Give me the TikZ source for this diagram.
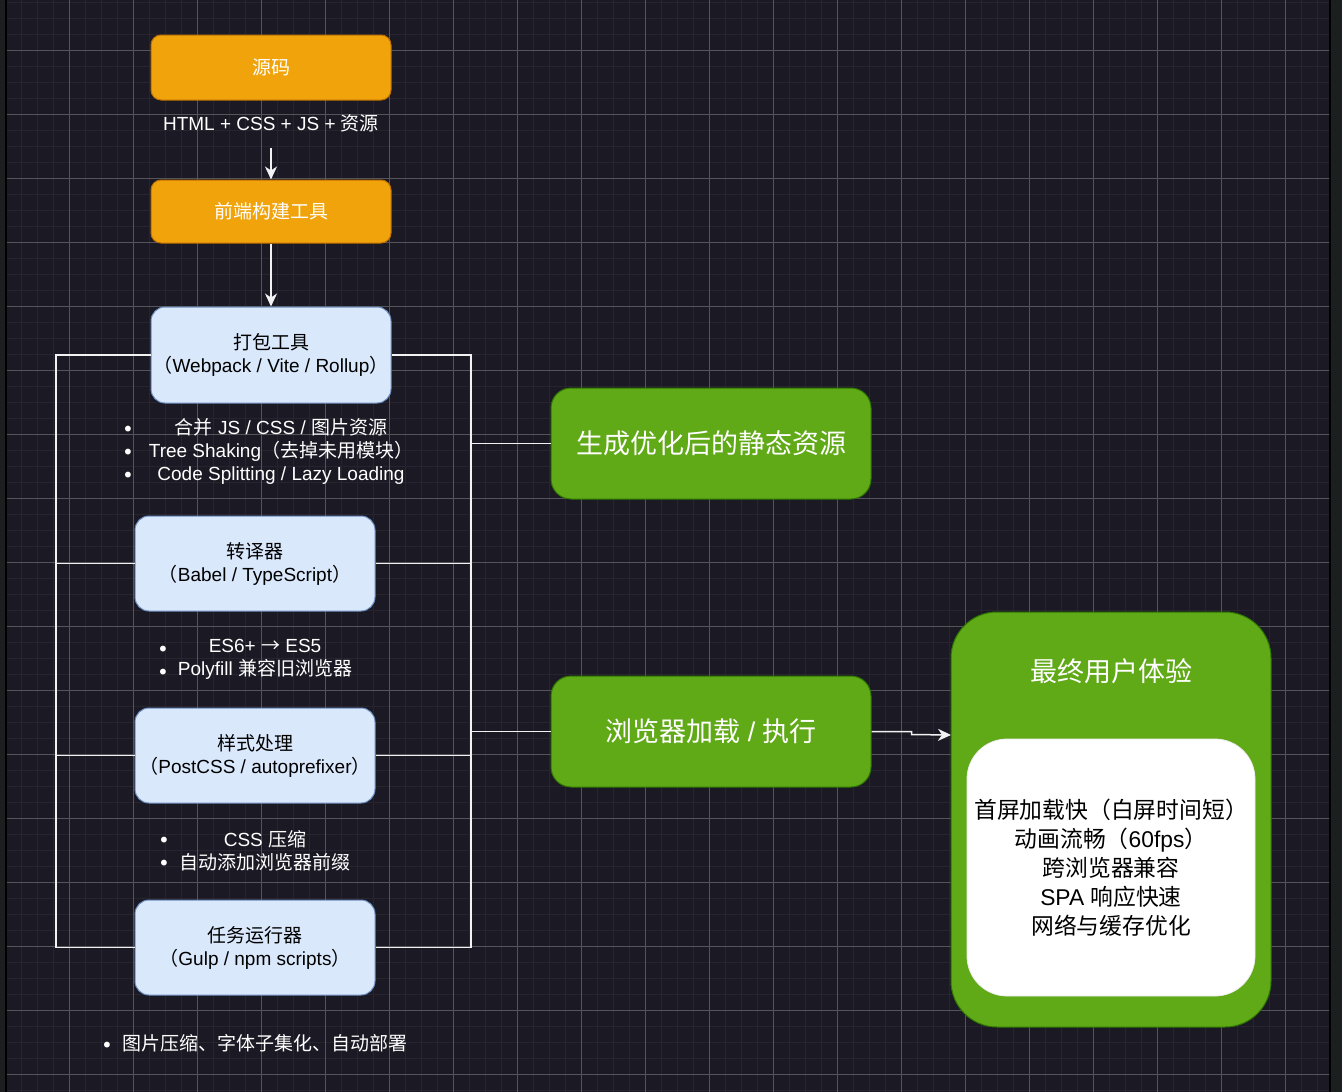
\documentclass[tikz,border=0pt]{standalone}
\usepackage{fontspec}
\setmainfont{Noto Sans CJK SC}
\newfontfamily\latfont{Liberation Sans}
\newfontfamily\dotfont{DejaVu Sans}
\newcommand\lt[1]{{\latfont #1}}
\usetikzlibrary{arrows.meta}
\definecolor{bg}{HTML}{1B1924}
\definecolor{minorg}{HTML}{27242F}
\definecolor{majorg}{HTML}{55545A}
\definecolor{edgeg}{HTML}{1B1F1F}
\definecolor{ofill}{HTML}{F0A30A}
\definecolor{ostroke}{HTML}{BD7000}
\definecolor{bfill}{HTML}{DAE8FC}
\definecolor{bstroke}{HTML}{6C8EBF}
\definecolor{gfill}{HTML}{60A917}
\definecolor{gstroke}{HTML}{2D7600}
\definecolor{wirec}{HTML}{F2F2F2}
\begin{document}
\begin{tikzpicture}[x=1pt,y=-1pt,
  orangebox/.style={draw=ostroke, fill=ofill, line width=1pt, rounded corners=10pt,
    minimum width=240pt, inner sep=0pt, text=white, font=\fontsize{19pt}{23pt}\selectfont},
  bluebox/.style={draw=bstroke, fill=bfill, line width=1pt, rounded corners=14pt,
    minimum width=240pt, minimum height=95pt, inner sep=0pt, align=center, text=black,
    font=\fontsize{19pt}{23pt}\selectfont},
  greenbox/.style={draw=gstroke, fill=gfill, line width=1pt, rounded corners=20pt,
    minimum width=320pt, minimum height=111pt, inner sep=0pt, text=white,
    font=\fontsize{27pt}{30pt}\selectfont},
  notes/.style={text=white, align=center, inner sep=0pt, font=\fontsize{19pt}{23pt}\selectfont},
  dots/.style={text=white, align=center, inner sep=0pt, yshift=-3.5pt,
    font=\dotfont\fontsize{20pt}{23pt}\selectfont},
  wire/.style={draw=wirec, line width=1.5pt},
  arr/.style={draw=wirec, line width=1.5pt, -{Stealth[length=13pt,width=12pt,inset=4pt]}}
]
\useasboundingbox (0,0) rectangle (1342,1092);
% background
\fill[bg] (0,0) rectangle (1342,1092);
\fill[edgeg] (0,0) rectangle (5,1092);
\fill[black] (5,0) rectangle (7,1092);
\fill[black] (1329,0) rectangle (1331,1092);
\fill[edgeg] (1331,0) rectangle (1342,1092);
% grid
\begin{scope}
\clip (7,0) rectangle (1329,1092);
\foreach \gx in {5,21,...,1330} \draw[minorg, line width=1pt] (\gx,0) -- (\gx,1092);
\foreach \gy in {2,18,...,1092} \draw[minorg, line width=1pt] (0,\gy) -- (1342,\gy);
\foreach \gx in {5,69,...,1330} \draw[majorg, line width=1pt] (\gx,0) -- (\gx,1092);
\foreach \gy in {50,114,...,1092} \draw[majorg, line width=1pt] (0,\gy) -- (1342,\gy);
\end{scope}

% orange nodes
\node[orangebox, minimum height=65pt] (src) at (271,67.5) {源码};
\node[notes] (lbl) at (271,123) {\lt{HTML + CSS + JS + }资源};
\node[orangebox, minimum height=63pt] (build) at (271,211.5) {前端构建工具};

% blue nodes
\node[bluebox, minimum height=96pt] (pack) at (271,355) {打包工具\\（\lt{Webpack / Vite / Rollup}）};
\node[bluebox] (trans) at (255,563.5) {转译器\\（\lt{Babel / TypeScript}）};
\node[bluebox] (style) at (255,755.5) {样式处理\\（\lt{PostCSS / autoprefixer}）};
\node[bluebox] (task) at (255,947.5) {任务运行器\\（\lt{Gulp / npm scripts}）};

% notes
\node[notes] (n1) at (281,451) {合并\lt{ JS / CSS / }图片资源\\\lt{Tree Shaking}（去掉未用模块）\\\lt{Code Splitting / Lazy Loading}};
\node[dots] (d1) at (128,451) {•\\•\\•};
\node[notes] (n2) at (265,659.5) {\lt{ES6+ }→\lt{ ES5}\\\lt{Polyfill }兼容旧浏览器};
\node[dots] (d2) at (163,659.5) {•\\•};
\node[notes] (n3) at (265,850.5) {\lt{CSS }压缩\\自动添加浏览器前缀};
\node[dots] (d3) at (164,850.5) {•\\•};
\node[notes] (n4) at (265,1043) {图片压缩、字体子集化、自动部署};
\node[dots, yshift=-1pt] (d4) at (107,1043) {•};

% green nodes
\node[greenbox] (gen) at (711,443.5) {生成优化后的静态资源};
\node[greenbox] (browser) at (711,731.5) {浏览器加载\lt{ / }执行};
\node[draw=gstroke, fill=gfill, line width=1pt, rounded corners=46pt,
  minimum width=320pt, minimum height=415pt, inner sep=0pt] (ux) at (1111,819.5) {};
\node[text=white, inner sep=0pt, font=\fontsize{27pt}{30pt}\selectfont] (uxtitle) at (1111,671) {最终用户体验};
\node[draw=white!92!black, fill=white, line width=0.8pt, rounded corners=40pt,
  minimum width=288pt, minimum height=257pt, inner sep=0pt, align=center, text=black,
  font=\fontsize{22.8pt}{29pt}\selectfont] (uxin) at (1111,867.5)
  {首屏加载快（白屏时间短）\\动画流畅（\lt{60fps}）\\跨浏览器兼容\\\lt{SPA }响应快速\\网络与缓存优化};

% connectors
\coordinate (lblend) at (271,148);
\draw[arr] (lblend) -- (build.north);
\draw[arr] (build.south) -- (pack.north);

\coordinate (L) at (56,0);
\coordinate (R) at (471,0);
\draw[wire] (pack.west) -- (L |- pack.west) -- (L |- task.west) -- (task.west);
\draw[wire] (trans.west) -- (L |- trans.west);
\draw[wire] (style.west) -- (L |- style.west);
\draw[wire] (pack.east) -- (R |- pack.east) -- (R |- task.east) -- (task.east);
\draw[wire] (trans.east) -- (R |- trans.east);
\draw[wire] (style.east) -- (R |- style.east);
\draw[wire] (R |- gen.west) -- (gen.west);
\draw[wire] (R |- browser.west) -- (browser.west);

\coordinate (uxentry) at (951,735);
\draw[arr] (browser.east) -- ++(40,0) -- ++(0,3) -- (uxentry);
\end{tikzpicture}
\end{document}
